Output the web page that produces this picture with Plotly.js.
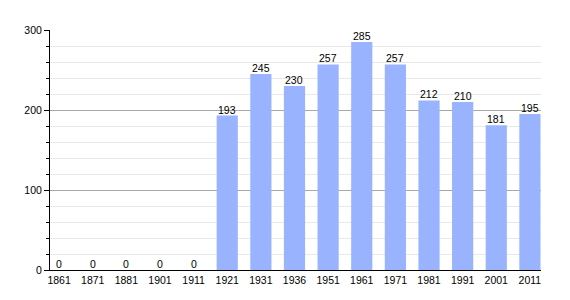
<!DOCTYPE html>
<html><head><meta charset="utf-8">
<script src="https://cdn.plot.ly/plotly-3.0.1.min.js"></script>
<style>body{margin:0}#c{width:570px;height:300px}</style>
</head><body><div id="c"></div>
<script>
const years = ["1861","1871","1881","1901","1911","1921","1931","1936","1951","1961","1971","1981","1991","2001","2011"];
const population = [0,0,0,0,0,193,245,230,257,285,257,212,210,181,195];
const yTicks = [0,100,200,300];

const labels = years.map((yr, i) => ({
  x: i, y: population[i], xref: 'x', yref: 'y',
  text: String(population[i]), showarrow: false,
  yanchor: 'bottom', yshift: -1, borderpad: 0,
  font: {family: 'Liberation Sans, Arial, sans-serif', size: 10.5, color: '#000'}
}));

Plotly.newPlot('c', [{
  type: 'bar',
  x: years,
  y: population,
  width: 0.63,
  marker: {color: '#99b3ff'},
  hoverinfo: 'none'
}], {
  width: 570, height: 300,
  margin: {l: 50, r: 29, t: 30, b: 30},
  paper_bgcolor: '#fff', plot_bgcolor: '#fff',
  showlegend: false,
  annotations: labels,
  font: {family: 'Liberation Sans, Arial, sans-serif', size: 10, color: '#000'},
  xaxis: {
    type: 'category', range: [-0.27, 14.33],
    showline: true, linecolor: '#000', linewidth: 1,
    ticks: '', showgrid: false, tickfont: {size: 10.5}, fixedrange: true
  },
  yaxis: {
    range: [0, 300], tickvals: yTicks, ticktext: yTicks.map(String),
    showline: true, linecolor: '#000', linewidth: 1,
    ticks: 'outside', ticklen: 5, tickcolor: '#000',
    showgrid: true, gridcolor: '#a8a8a8', gridwidth: 1,
    zeroline: false,
    minor: {dtick: 20, ticks: 'outside', ticklen: 3, tickcolor: '#000', showgrid: true, gridcolor: '#e8e8e8'},
    tickfont: {size: 10.5}, fixedrange: true
  }
}, {staticPlot: true});
</script></body></html>
